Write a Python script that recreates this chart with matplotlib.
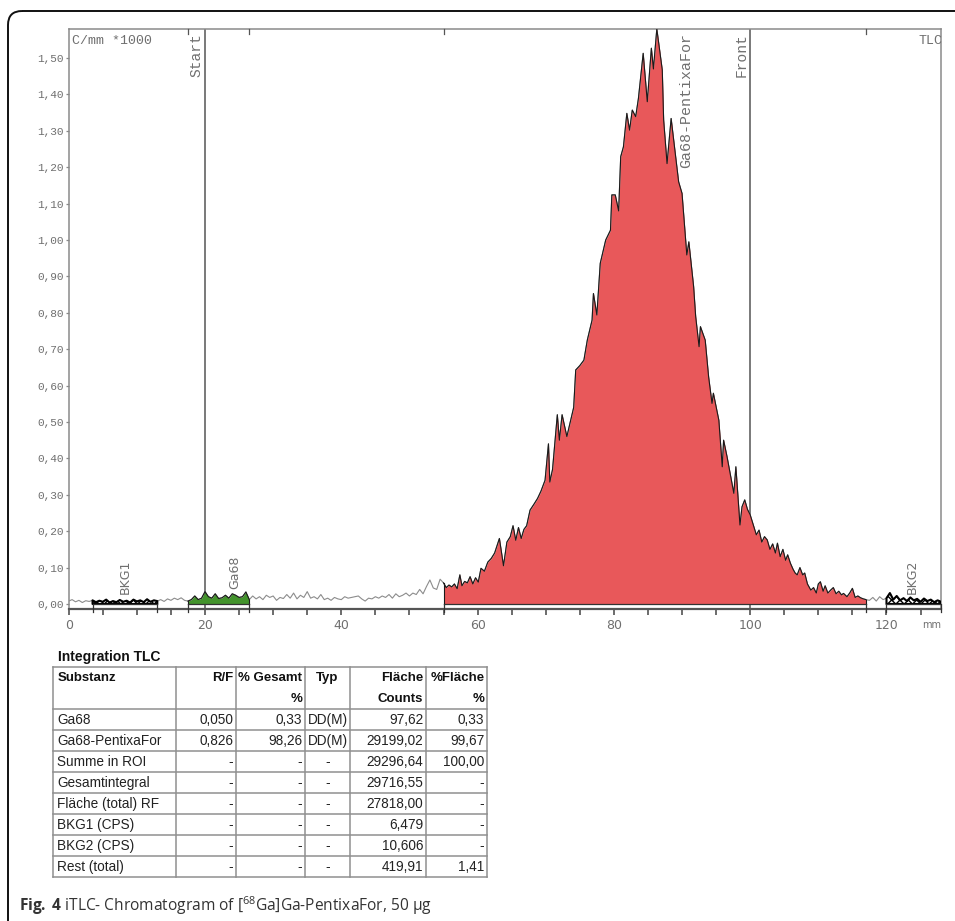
"""iTLC chromatogram of [68Ga]Ga-PentixaFor with the integration table below it."""

import matplotlib
matplotlib.use("Agg")
import matplotlib.pyplot as plt
import numpy as np
from matplotlib.patches import FancyBboxPatch

# ---- chromatogram trace (mm, counts/mm * 1000) ----
trace_mm = [
    0.0, 0.5, 1.0, 1.5, 2.0, 2.5, 3.0, 3.5, 4.0, 4.5, 5.0, 5.5, 6.0, 6.5, 7.0, 7.5,
    8.0, 8.5, 9.0, 9.5, 10.0, 10.5, 11.0, 11.5, 12.0, 12.5, 13.0, 13.5, 14.0, 14.5,
    15.0, 15.5, 16.0, 16.5, 17.0, 17.5, 18.0, 18.5, 19.0, 19.5, 20.0, 20.5, 21.0,
    21.5, 22.0, 22.5, 23.0, 23.5, 24.0, 24.5, 25.0, 25.5, 26.0, 26.5, 27.0, 27.5,
    28.0, 28.5, 29.0, 29.5, 30.0, 30.5, 31.0, 31.5, 32.0, 32.5, 33.0, 33.5, 34.0,
    34.5, 35.0, 35.5, 36.0, 36.5, 37.0, 37.5, 38.0, 38.5, 39.0, 39.5, 40.0, 40.5,
    41.0, 41.5, 42.0, 42.5, 43.0, 43.5, 44.0, 44.5, 45.0, 45.5, 46.0, 46.5, 47.0,
    47.5, 48.0, 48.5, 49.0, 49.5, 50.0, 50.5, 51.0, 51.5, 52.0, 52.5, 53.0, 53.5,
    54.0, 54.5, 55.0,
    55.4, 55.8, 56.2, 56.6, 57.0, 57.4, 57.7, 58.1, 58.5, 58.9, 59.3, 59.7, 60.1,
    60.5, 61.0, 61.5, 62.0, 62.5, 63.2, 63.8, 64.3, 64.8, 65.2, 65.6, 66.0, 66.4,
    66.8, 67.2, 67.7, 68.3, 68.8, 69.3, 69.9, 70.4, 70.6, 71.0, 71.7, 72.0, 72.4,
    73.1, 73.6, 74.1, 74.4, 75.0, 75.6, 76.1, 76.8, 77.0, 77.5, 78.0, 78.8, 79.5,
    79.7, 80.2, 80.7, 81.0, 81.4, 81.9, 82.3, 82.7, 83.2, 83.6, 84.3, 84.9, 85.5,
    85.8, 86.3, 87.1, 87.3, 87.8, 88.4, 89.0, 89.5, 90.0, 90.7, 91.0, 91.7, 92.0,
    92.5, 92.7, 93.4, 93.9, 94.4, 94.6, 95.4, 95.9, 96.1, 96.6, 97.6, 97.9, 98.5,
    98.8, 99.2, 99.6, 100.0, 100.5, 100.9, 101.3, 101.7, 102.1, 102.5, 102.9, 103.3,
    103.7, 104.0, 104.4, 104.8, 105.2, 105.5, 105.9, 106.3, 106.6, 106.9, 107.3,
    107.7, 108.0, 108.4, 108.9, 109.3, 109.7, 110.0, 110.3, 110.7, 111.0, 111.4,
    111.8, 112.2, 112.6, 113.0, 113.4, 113.7, 114.2, 114.6, 115.0, 115.4, 115.8,
    116.2, 116.6, 117.0,
    117.5, 118.0, 118.5, 119.0, 119.5, 120.0, 120.5, 121.0, 121.5, 122.0, 122.5,
    123.0, 123.5, 124.0, 124.5, 125.0, 125.5, 126.0, 126.5, 127.0, 127.5, 128.0,
]
trace_cpm = [
    0.008, 0.012, 0.006, 0.010, 0.004, 0.009, 0.007, 0.010, 0.005, 0.009, 0.006,
    0.012, 0.004, 0.008, 0.005, 0.011, 0.006, 0.009, 0.004, 0.012, 0.007, 0.010,
    0.005, 0.013, 0.006, 0.010, 0.008, 0.012, 0.007, 0.014, 0.010, 0.016, 0.012,
    0.017, 0.010, 0.008, 0.012, 0.022, 0.012, 0.016, 0.034, 0.020, 0.016, 0.028,
    0.015, 0.017, 0.024, 0.016, 0.028, 0.024, 0.018, 0.020, 0.033, 0.012, 0.022,
    0.014, 0.020, 0.012, 0.024, 0.018, 0.022, 0.010, 0.018, 0.015, 0.026, 0.016,
    0.030, 0.014, 0.024, 0.018, 0.034, 0.016, 0.020, 0.014, 0.026, 0.012, 0.016,
    0.010, 0.018, 0.014, 0.012, 0.020, 0.016, 0.018, 0.020, 0.022, 0.014, 0.008,
    0.016, 0.014, 0.020, 0.016, 0.022, 0.018, 0.026, 0.016, 0.028, 0.020, 0.024,
    0.030, 0.022, 0.030, 0.026, 0.040, 0.028, 0.048, 0.066, 0.044, 0.040, 0.068,
    0.058,
    0.045, 0.052, 0.047, 0.055, 0.042, 0.080, 0.050, 0.062, 0.058, 0.075, 0.055,
    0.072, 0.060, 0.098, 0.090, 0.115, 0.125, 0.140, 0.180, 0.105, 0.170, 0.185,
    0.215, 0.175, 0.210, 0.180, 0.205, 0.215, 0.258, 0.275, 0.290, 0.310, 0.340,
    0.440, 0.335, 0.370, 0.520, 0.450, 0.520, 0.460, 0.500, 0.540, 0.643, 0.655,
    0.670, 0.725, 0.780, 0.853, 0.794, 0.936, 1.000, 1.027, 1.124, 1.124, 1.080,
    1.229, 1.256, 1.348, 1.302, 1.357, 1.339, 1.389, 1.513, 1.380, 1.527, 1.470,
    1.580, 1.467, 1.330, 1.210, 1.334, 1.238, 1.160, 1.128, 0.959, 0.995, 0.872,
    0.790, 0.707, 0.762, 0.725, 0.624, 0.551, 0.579, 0.505, 0.377, 0.450, 0.405,
    0.304, 0.377, 0.217, 0.267, 0.286, 0.260, 0.245, 0.215, 0.190, 0.203, 0.170,
    0.185, 0.176, 0.150, 0.165, 0.140, 0.167, 0.130, 0.150, 0.120, 0.135, 0.112,
    0.095, 0.085, 0.080, 0.100, 0.080, 0.085, 0.055, 0.038, 0.045, 0.030, 0.055,
    0.061, 0.035, 0.050, 0.030, 0.038, 0.045, 0.028, 0.035, 0.025, 0.029, 0.020,
    0.030, 0.043, 0.018, 0.022, 0.017, 0.014, 0.012,
    0.010, 0.018, 0.008, 0.020, 0.012, 0.016, 0.030, 0.012, 0.022, 0.010, 0.016,
    0.008, 0.018, 0.010, 0.014, 0.006, 0.015, 0.008, 0.012, 0.005, 0.010, 0.006,
]

# ---- regions of interest ----
roi_names = ["BKG1", "Ga68", "Ga68-PentixaFor", "BKG2"]
roi_start = [3.5, 17.5, 55.0, 120.0]
roi_end = [13.0, 26.5, 117.0, 128.0]
roi_kind = ["bkg", "peak", "peak", "bkg"]
roi_color = [None, "#43932c", "#e8585a", None]

# ---- marker lines ----
marker_names = ["Start", "Front"]
marker_mm = [20.0, 100.0]

# ---- axes ----
x_major = [0, 20, 40, 60, 80, 100, 120]
x_minor = [5, 10, 15, 25, 30, 35, 45, 50, 55, 65, 70, 75, 85, 90, 95, 105, 110, 115, 125]
y_ticks = [0.0, 0.1, 0.2, 0.3, 0.4, 0.5, 0.6, 0.7, 0.8, 0.9, 1.0, 1.1, 1.2, 1.3, 1.4, 1.5]
y_labels = [f"{v:.2f}".replace(".", ",") for v in y_ticks]

# ---- integration table ----
col_header1 = ["Substanz", "R/F", "% Gesamt", "Typ", "Fläche", "%Fläche"]
col_header2 = ["", "", "%", "", "Counts", "%"]
col_align = ["left", "right", "right", "center", "right", "right"]
tab_substanz = ["Ga68", "Ga68-PentixaFor", "Summe in ROI", "Gesamtintegral",
                "Fläche (total) RF", "BKG1 (CPS)", "BKG2 (CPS)", "Rest (total)"]
tab_rf = ["0,050", "0,826", "-", "-", "-", "-", "-", "-"]
tab_gesamt = ["0,33", "98,26", "-", "-", "-", "-", "-", "-"]
tab_typ = ["DD(M)", "DD(M)", "-", "-", "-", "-", "-", "-"]
tab_flaeche = ["97,62", "29199,02", "29296,64", "29716,55", "27818,00", "6,479", "10,606", "419,91"]
tab_pflaeche = ["0,33", "99,67", "100,00", "-", "-", "-", "-", "1,41"]

MONO = ["Liberation Mono", "DejaVu Sans Mono"]
SANS = ["Liberation Sans", "DejaVu Sans"]
GREY = "#6f6f6f"
TAB_FS = 9.8

plt.rcParams["mathtext.fontset"] = "custom"
plt.rcParams["mathtext.rm"] = "Open Sans"
plt.rcParams["mathtext.bf"] = "Open Sans:bold"

W, H = 955, 921
fig = plt.figure(figsize=(W / 100, H / 100), dpi=100)
fig.patch.set_facecolor("white")

# overlay in pixel coordinates for border, table and caption
ov = fig.add_axes([0, 0, 1, 1], zorder=0)
ov.set_xlim(0, W)
ov.set_ylim(H, 0)
ov.axis("off")

ax = fig.add_axes([68.7 / W, 1 - 609.3 / H, (941 - 68.7) / W, (609.3 - 29.3) / H], zorder=2)
ax.set_facecolor("none")
ax.set_xlim(0, 128)
y_top = 1.579
y_bot = -0.0146
ax.set_ylim(y_bot, y_top)

x = np.array(trace_mm)
y = np.array(trace_cpm)

# plain trace
ax.plot(x, y, color="#8c8c8c", lw=0.8, zorder=2)

# regions
for name, s, e, kind, col in zip(roi_names, roi_start, roi_end, roi_kind, roi_color):
    m = (x >= s) & (x <= e)
    xs, ys = x[m], y[m]
    if kind == "peak":
        ax.fill_between(xs, 0, ys, color=col, lw=0, zorder=3)
        ax.plot(xs, ys, color="#1a1a1a", lw=0.8, zorder=4)
        ax.plot([s, s], [0, ys[0]], color="#1a1a1a", lw=0.8, zorder=4)
        ax.plot([e, e], [0, ys[-1]], color="#1a1a1a", lw=0.8, zorder=4)
        # ROI markers on the top frame
        for b in (s, e):
            ax.plot([b, b], [y_top, y_top - 0.012], color="#555555", lw=0.9, clip_on=False, zorder=5)
    else:
        ax.fill_between(xs, 0, ys, facecolor="white", edgecolor="black", hatch="xxxx", lw=1.5, zorder=3)
    # baseline bracket
    ax.plot([s, e], [0, 0], color="#333333", lw=0.9, zorder=4)
    for b in (s, e):
        ax.plot([b, b], [0, -0.022], color="#333333", lw=0.9, clip_on=False, zorder=4)

# ROI labels
for name, s, e, kind in zip(roi_names, roi_start, roi_end, roi_kind):
    if name == "Ga68-PentixaFor":
        ax.text(90.6, y_top - 0.01, name, rotation=90, ha="center", va="top",
                fontsize=10.8, family=MONO, color=GREY, zorder=6)
    elif name == "Ga68":
        ax.text(24.4, 0.041, name, rotation=90, ha="center", va="bottom",
                fontsize=9, color=GREY, zorder=6)
    else:
        ax.text((s + e) / 2 if name == "BKG1" else 123.8, 0.027, name, rotation=90,
                ha="center", va="bottom", fontsize=9, color=GREY, zorder=6)

# start / front lines
for name, mm in zip(marker_names, marker_mm):
    ax.axvline(mm, color="#555555", lw=1.1, zorder=1)
    ax.text(mm - 1.25, y_top - 0.01, name, rotation=90, ha="center", va="top",
            fontsize=10.5, family=MONO, color=GREY, zorder=6)

ax.text(0.5, 1.547, "C/mm *1000", ha="left", va="center", fontsize=9.5, family=MONO, color=GREY)
ax.text(128.2, 1.547, "TLC", ha="right", va="center", fontsize=9.5, family=MONO, color=GREY)
ax.text(128.0, -0.045, "mm", ha="right", va="top", fontsize=7, color=GREY, clip_on=False)

# axis styling
ax.set_xticks(x_major)
ax.set_xticklabels([str(v) for v in x_major])
ax.set_xticks(x_minor, minor=True)
ax.set_yticks(y_ticks)
ax.set_yticklabels(y_labels, family=MONO)
ax.tick_params(axis="x", which="both", direction="out", length=4, width=1.1,
               color="#444444", labelsize=9, labelcolor=GREY, pad=3)
ax.tick_params(axis="y", direction="out", length=2.5, width=0.9, color="#888888",
               labelsize=8, labelcolor=GREY, pad=1)
for side in ("left", "top", "right"):
    ax.spines[side].set_color("#8a8a8a")
    ax.spines[side].set_linewidth(1.1)
ax.spines["bottom"].set_color("#555555")
ax.spines["bottom"].set_linewidth(1.6)

# ---- panel border ----
ov.add_patch(FancyBboxPatch((8, 11), 1000, 940, boxstyle="round,pad=0,rounding_size=14",
                            facecolor="none", edgecolor="#111111", lw=1.4, clip_on=False))

# ---- integration table ----
col_edges = [53.3, 175.7, 236.3, 305.0, 350.0, 426.0, 487.3]
tab_top, head_bot, tab_bot = 666.7, 709.0, 877.3
n_rows = len(tab_substanz)
row_edges = [head_bot + i * (tab_bot - head_bot) / n_rows for i in range(n_rows + 1)]
line_kw = dict(color="#8f8f8f", lw=1.1)

for cx in col_edges:
    ov.plot([cx, cx], [tab_top, tab_bot], **line_kw)
ov.plot([col_edges[0], col_edges[-1]], [tab_top, tab_top], **line_kw)
for ry in row_edges:
    ov.plot([col_edges[0], col_edges[-1]], [ry, ry], **line_kw)

ov.text(58.3, 657, "Integration TLC", ha="left", va="center", fontsize=10,
        weight="bold", family=SANS, color="#111111")


def cell_x(i, align):
    if align == "left":
        return col_edges[i] + 4
    if align == "right":
        return col_edges[i + 1] - 3
    return (col_edges[i] + col_edges[i + 1]) / 2


for i, (h1, h2, al) in enumerate(zip(col_header1, col_header2, col_align)):
    ov.text(cell_x(i, al), 677.5, h1, ha=al, va="center", fontsize=TAB_FS - 0.3, weight="bold",
            family=SANS, color="#111111")
    if h2:
        ov.text(cell_x(i, al), 699, h2, ha=al, va="center", fontsize=TAB_FS - 0.3, weight="bold",
                family=SANS, color="#111111")

columns = [tab_substanz, tab_rf, tab_gesamt, tab_typ, tab_flaeche, tab_pflaeche]
for i, (col, al) in enumerate(zip(columns, col_align)):
    for r, val in enumerate(col):
        cy = (row_edges[r] + row_edges[r + 1]) / 2
        ov.text(cell_x(i, al), cy, val, ha=al, va="center", fontsize=TAB_FS,
                family=SANS, color="#222222")

# ---- caption ----
ov.text(19.3, 911, r"$\mathbf{Fig.}\:\mathbf{4}$ iTLC- Chromatogram of [$^{68}$Ga]Ga-PentixaFor, 50 µg",
        ha="left", va="baseline", fontsize=11.2, family="Open Sans", color="#333333")

fig.savefig("out.png", dpi=100, facecolor="white")
